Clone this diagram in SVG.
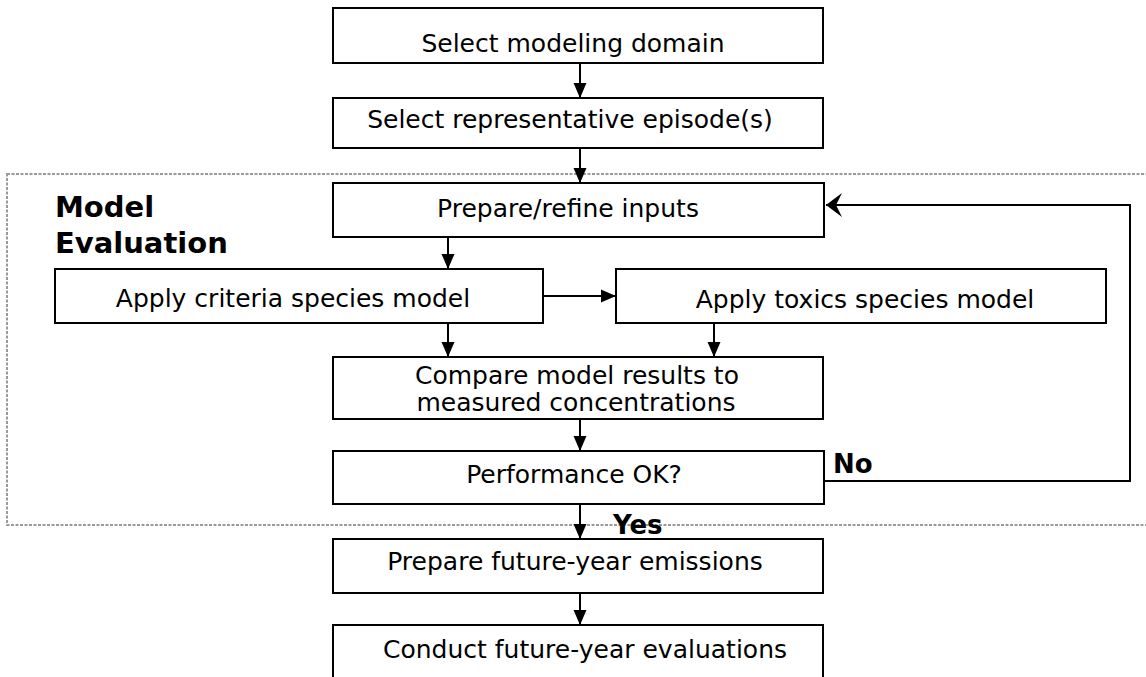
<svg xmlns="http://www.w3.org/2000/svg" width="1146" height="677" viewBox="0 0 1146 677">
<style>
.box{fill:#fff;stroke:#000;stroke-width:2}
.t{font-family:"DejaVu Sans",Verdana,sans-serif;font-size:25px;fill:#000;text-anchor:middle}
.b{font-family:"DejaVu Sans",Verdana,sans-serif;font-weight:bold;fill:#000}
.c{fill:none;stroke:#000;stroke-width:2}
</style>
<defs>
<marker id="ah" markerUnits="userSpaceOnUse" markerWidth="15" markerHeight="14" refX="15" refY="7" orient="auto">
<path d="M0,0.5 L15,7 L0,13.5 z" fill="#000"/>
</marker>
<marker id="st" markerUnits="userSpaceOnUse" markerWidth="16" markerHeight="24" refX="16" refY="12" orient="auto">
<path d="M16,12 L0,0 L6,12 L0,24 z" fill="#000"/>
</marker>
</defs>
<rect x="7" y="174" width="1160" height="351" fill="none" stroke="#9a9a9a" stroke-width="2" stroke-dasharray="3,1.5"/>
<text class="b" x="55" y="217" font-size="29">Model</text>
<text class="b" x="55" y="253" font-size="29">Evaluation</text>
<g id="connectors">
<line class="c" x1="580" y1="63" x2="580" y2="98" marker-end="url(#ah)"/>
<line class="c" x1="580" y1="148" x2="580" y2="183" marker-end="url(#ah)"/>
<line class="c" x1="448" y1="237" x2="448" y2="269" marker-end="url(#ah)"/>
<line class="c" x1="543" y1="296" x2="616" y2="296" marker-end="url(#ah)"/>
<line class="c" x1="448" y1="323" x2="448" y2="357" marker-end="url(#ah)"/>
<line class="c" x1="714" y1="323" x2="714" y2="357" marker-end="url(#ah)"/>
<line class="c" x1="580" y1="419" x2="580" y2="451" marker-end="url(#ah)"/>
<line class="c" x1="580" y1="504" x2="580" y2="539" marker-end="url(#ah)"/>
<line class="c" x1="580" y1="593" x2="580" y2="625" marker-end="url(#ah)"/>
<path class="c" d="M824,481 H1130 V205 H826" marker-end="url(#st)"/>
<text class="b" x="613" y="534" font-size="26">Yes</text>
<text class="b" x="833" y="473" font-size="26">No</text>
</g>
<g id="n1"><rect class="box" x="333" y="8" width="490" height="55"/><text class="t" x="573" y="52">Select modeling domain</text></g>
<g id="n2"><rect class="box" x="333" y="98" width="490" height="50"/><text class="t" x="570" y="128">Select representative episode(s)</text></g>
<g id="n3"><rect class="box" x="333" y="183" width="491" height="54"/><text class="t" x="568" y="217">Prepare/refine inputs</text></g>
<g id="n4"><rect class="box" x="55" y="269" width="488" height="54"/><text class="t" x="293" y="307">Apply criteria species model</text></g>
<g id="n5"><rect class="box" x="616" y="269" width="490" height="54"/><text class="t" x="865" y="308">Apply toxics species model</text></g>
<g id="n6"><rect class="box" x="333" y="357" width="490" height="62"/><text class="t" x="577" y="384" font-size="23">Compare model results to</text><text class="t" x="576" y="411" font-size="23">measured concentrations</text></g>
<g id="n7"><rect class="box" x="333" y="451" width="491" height="53"/><text class="t" x="574" y="483">Performance OK?</text></g>
<g id="n8"><rect class="box" x="333" y="539" width="490" height="54"/><text class="t" x="575" y="570">Prepare future-year emissions</text></g>
<g id="n9"><rect class="box" x="333" y="625" width="490" height="70"/><text class="t" x="585" y="658">Conduct future-year evaluations</text></g>
</svg>
